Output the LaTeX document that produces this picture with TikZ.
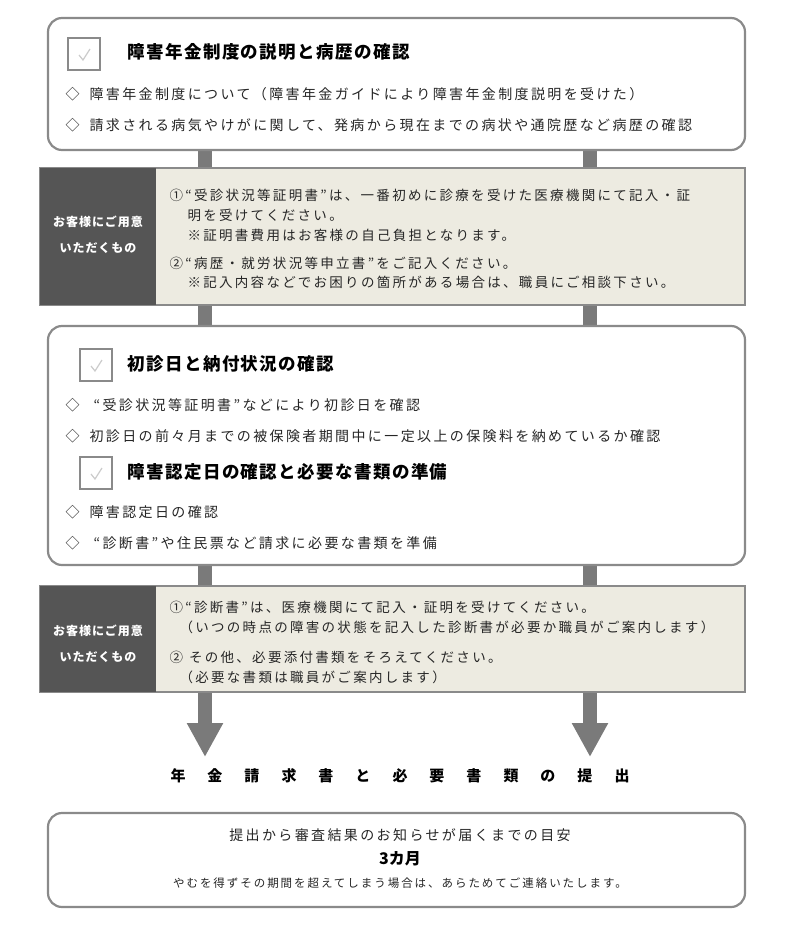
\documentclass[tikz,border=0pt]{standalone}
\usepackage{fontspec}
\setmainfont{Noto Sans CJK JP}
\newfontfamily\spaced[LetterSpace=17]{Noto Sans CJK JP}
\newfontfamily\headspaced[LetterSpace=8]{Noto Sans CJK JP}
\usetikzlibrary{positioning, arrows.meta}
\definecolor{boxline}{HTML}{8A8A8A}
\definecolor{tan}{HTML}{EDEBE1}
\definecolor{darkbox}{HTML}{555555}
\definecolor{barcol}{HTML}{7A7A7A}
\tikzset{
  stagebox/.style={draw=boxline, line width=2.2pt, rounded corners=14pt, fill=white},
  prepbox/.style={draw=boxline, line width=1.2pt, fill=tan},
  darkpart/.style={fill=darkbox},
  chkbox/.style={draw=boxline, line width=1.8pt, fill=white},
  heading/.style={anchor=west, font=\headspaced\fontsize{17.5}{20}\selectfont\bfseries},
  item/.style={anchor=west, font=\spaced\fontsize{14}{16}\selectfont, text=black!85},
  prepitem/.style={anchor=west, font=\spaced\fontsize{13.5}{16}\selectfont, text=black!85},
  darklabel/.style={font=\headspaced\fontsize{12}{14}\selectfont\bfseries, text=white},
  bar/.style={barcol, line width=14pt},
  flowarrow/.style={barcol, line width=14pt, -{Triangle[length=34pt, width=34pt]}}
}
\newcommand{\checkmarkbox}[3]{%
  \draw[chkbox] (#1,#2) rectangle ++(32,32);
  \draw[black!20, line width=1.2pt] (#1+11,#2+17) -- (#1+15,#2+22) -- (#1+22,#2+11);
  \coordinate (#3) at (#1+32,#2+16);
}
\begin{document}
\begin{tikzpicture}[x=1pt, y=-1pt]
\useasboundingbox (0,0) rectangle (800,926);

% --- connector bars ---
\draw[bar] (205,150) -- (205,168);
\draw[bar] (590,150) -- (590,168);
\draw[bar] (205,305) -- (205,326);
\draw[bar] (590,305) -- (590,326);
\draw[bar] (205,565) -- (205,586);
\draw[bar] (590,565) -- (590,586);
\draw[flowarrow] (205,692) -- (205,757);
\draw[flowarrow] (590,692) -- (590,757);

% --- stage 1 ---
\draw[stagebox] (48,18) rectangle (745,150);
\checkmarkbox{68}{38}{chkA}
\node[heading] (headA) at (124,52) {障害年金制度の説明と病歴の確認};
\node[item] (itemA1) at (62,94) {◇\hspace{10pt}障害年金制度について（障害年金ガイドにより障害年金制度説明を受けた）};
\node[item] (itemA2) at (62,125) {◇\hspace{10pt}請求される病気やけがに関して、発病から現在までの病状や通院歴など病歴の確認};

% --- preparation 1 ---
\draw[prepbox] (40,168) rectangle (745,305);
\fill[darkpart] (40,168) rectangle (156,305);
\node[darklabel] (prepA1) at (98,222) {お客様にご用意};
\node[darklabel] (prepA2) at (98,248) {いただくもの};
\node[prepitem] (noteA1) at (166,195) {①“受診状況等証明書”は、一番初めに診療を受けた医療機関にて記入・証};
\node[prepitem] (noteA2) at (184,215) {明を受けてください。};
\node[prepitem] (noteA3) at (184,235) {※証明書費用はお客様の自己負担となります。};
\node[prepitem] (noteA4) at (166,263) {②“病歴・就労状況等申立書”をご記入ください。};
\node[prepitem] (noteA5) at (184,282) {※記入内容などでお困りの箇所がある場合は、職員にご相談下さい。};

% --- stage 2 ---
\draw[stagebox] (48,326) rectangle (745,565);
\checkmarkbox{80}{349}{chkB}
\node[heading] (headB) at (124,364) {初診日と納付状況の確認};
\node[item] (itemB1) at (62,405) {◇\hspace{14pt}“受診状況等証明書”などにより初診日を確認};
\node[item] (itemB2) at (62,436) {◇\hspace{10pt}初診日の前々月までの被保険者期間中に一定以上の保険料を納めているか確認};
\checkmarkbox{80}{457}{chkC}
\node[heading] (headC) at (124,472) {障害認定日の確認と必要な書類の準備};
\node[item] (itemC1) at (62,512) {◇\hspace{10pt}障害認定日の確認};
\node[item] (itemC2) at (62,543) {◇\hspace{14pt}“診断書”や住民票など請求に必要な書類を準備};

% --- preparation 2 ---
\draw[prepbox] (40,586) rectangle (745,692);
\fill[darkpart] (40,586) rectangle (156,692);
\node[darklabel] (prepB1) at (98,631) {お客様にご用意};
\node[darklabel] (prepB2) at (98,657) {いただくもの};
\node[prepitem] (noteB1) at (166,607) {①“診断書”は、医療機関にて記入・証明を受けてください。};
\node[prepitem] (noteB2) at (176,627) {（いつの時点の障害の状態を記入した診断書が必要か職員がご案内します）};
\node[prepitem] (noteB3) at (166,657) {②\hspace{6pt}その他、必要添付書類をそろえてください。};
\node[prepitem] (noteB4) at (176,677) {（必要な書類は職員がご案内します）};

% --- submission ---
\node[font=\fontsize{15}{18}\selectfont\bfseries] (submit) at (400,776)
  {年\hspace{22pt}金\hspace{22pt}請\hspace{22pt}求\hspace{22pt}書\hspace{22pt}と\hspace{22pt}必\hspace{22pt}要\hspace{22pt}書\hspace{22pt}類\hspace{22pt}の\hspace{22pt}提\hspace{22pt}出};

% --- result box ---
\draw[stagebox] (48,813) rectangle (745,907);
\node[font=\spaced\fontsize{14}{16}\selectfont, text=black!85] (resA) at (400,835) {提出から審査結果のお知らせが届くまでの目安};
\node[font=\fontsize{16}{19}\selectfont\bfseries] (resB) at (400,859) {3カ月};
\node[font=\spaced\fontsize{11.5}{14}\selectfont, text=black!85] (resC) at (400,883) {やむを得ずその期間を超えてしまう場合は、あらためてご連絡いたします。};
\end{tikzpicture}
\end{document}
